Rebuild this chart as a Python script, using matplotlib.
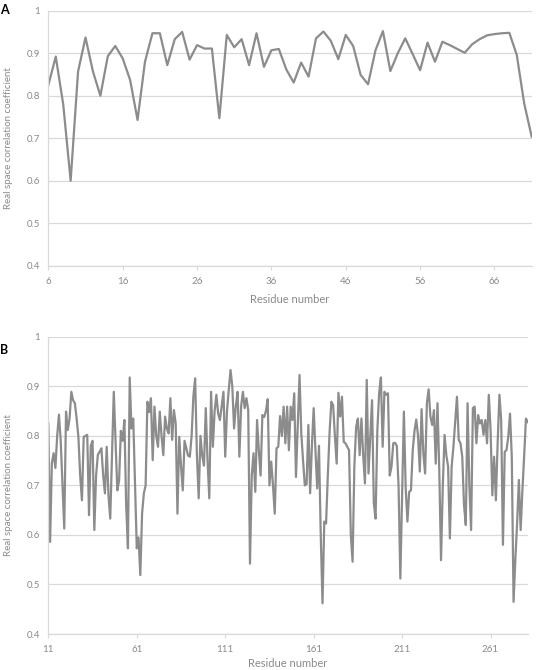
import numpy as np
import matplotlib
matplotlib.use("Agg")
import matplotlib.pyplot as plt
from matplotlib.ticker import FuncFormatter

plt.rcParams['font.family'] = ['Lato', 'DejaVu Sans']

# =========================
# Data
# =========================

# Panel A: residues 6-71
residues_a = np.arange(6, 72)
rscc_a = [
    0.825, 0.892, 0.78, 0.60, 0.857, 0.937, 0.857, 0.80, 0.893, 0.917,   # 6-15
    0.888, 0.837, 0.743, 0.88, 0.947, 0.947, 0.872, 0.933, 0.95, 0.885,  # 16-25
    0.919, 0.911, 0.911, 0.747, 0.943, 0.914, 0.933, 0.872, 0.947, 0.868,  # 26-35
    0.907, 0.91, 0.862, 0.831, 0.878, 0.845, 0.935, 0.951, 0.929, 0.886,  # 36-45
    0.943, 0.917, 0.849, 0.827, 0.907, 0.952, 0.858, 0.90, 0.935, 0.898,  # 46-55
    0.86, 0.925, 0.88, 0.927, 0.919, 0.91, 0.901, 0.921, 0.933, 0.942,    # 56-65
    0.945, 0.947, 0.948, 0.896, 0.782, 0.704,                             # 66-71
]
ticks_a = [6, 16, 26, 36, 46, 56, 66]

# Panel B: residues 11-282
residues_b = np.arange(11, 283)
rscc_b = [
    0.825, 0.586, 0.745, 0.765, 0.735, 0.80, 0.843, 0.79, 0.70, 0.613,    # 11-20
    0.849, 0.812, 0.835, 0.889, 0.872, 0.866, 0.835, 0.798, 0.72, 0.67,   # 21-30
    0.798, 0.80, 0.802, 0.64, 0.78, 0.79, 0.61, 0.72, 0.762, 0.768,       # 31-40
    0.775, 0.72, 0.684, 0.778, 0.68, 0.633, 0.76, 0.889, 0.79, 0.69,      # 41-50
    0.71, 0.81, 0.79, 0.832, 0.66, 0.573, 0.918, 0.815, 0.835, 0.70,      # 51-60
    0.573, 0.595, 0.519, 0.643, 0.684, 0.70, 0.869, 0.848, 0.876, 0.751,  # 61-70
    0.859, 0.80, 0.778, 0.849, 0.80, 0.761, 0.839, 0.815, 0.805, 0.876,   # 71-80
    0.792, 0.852, 0.825, 0.643, 0.798, 0.74, 0.69, 0.79, 0.775, 0.76,     # 81-90
    0.758, 0.80, 0.88, 0.916, 0.76, 0.674, 0.80, 0.76, 0.74, 0.856,       # 91-100
    0.75, 0.674, 0.889, 0.778, 0.85, 0.883, 0.845, 0.832, 0.86, 0.889,    # 101-110
    0.758, 0.85, 0.893, 0.933, 0.90, 0.815, 0.86, 0.889, 0.758, 0.86,     # 111-120
    0.889, 0.856, 0.876, 0.852, 0.542, 0.72, 0.765, 0.687, 0.832, 0.77,   # 121-130
    0.72, 0.842, 0.838, 0.85, 0.874, 0.70, 0.748, 0.70, 0.643, 0.775,     # 131-140
    0.778, 0.84, 0.80, 0.859, 0.785, 0.859, 0.771, 0.859, 0.832, 0.886,   # 141-150
    0.717, 0.82, 0.923, 0.805, 0.75, 0.70, 0.703, 0.822, 0.684, 0.78,     # 151-160
    0.856, 0.771, 0.694, 0.78, 0.60, 0.462, 0.627, 0.623, 0.72, 0.808,    # 161-170
    0.869, 0.862, 0.80, 0.744, 0.887, 0.839, 0.879, 0.788, 0.785, 0.778,  # 171-180
    0.771, 0.60, 0.546, 0.738, 0.818, 0.835, 0.761, 0.835, 0.76, 0.704,   # 181-190
    0.913, 0.724, 0.80, 0.872, 0.664, 0.633, 0.812, 0.886, 0.918, 0.778,  # 191-200
    0.889, 0.883, 0.886, 0.72, 0.738, 0.785, 0.786, 0.78, 0.697, 0.512,   # 201-210
    0.68, 0.849, 0.697, 0.627, 0.687, 0.69, 0.771, 0.81, 0.833, 0.80,     # 211-220
    0.728, 0.854, 0.765, 0.724, 0.866, 0.894, 0.839, 0.822, 0.852, 0.744, # 221-230
    0.866, 0.731, 0.549, 0.70, 0.802, 0.761, 0.738, 0.593, 0.738, 0.778,  # 231-240
    0.83, 0.879, 0.792, 0.785, 0.758, 0.66, 0.62, 0.866, 0.70, 0.61,      # 241-250
    0.856, 0.859, 0.785, 0.842, 0.825, 0.832, 0.802, 0.832, 0.785, 0.883, # 251-260
    0.812, 0.68, 0.758, 0.67, 0.785, 0.883, 0.832, 0.58, 0.768, 0.771,    # 261-270
    0.798, 0.845, 0.758, 0.465, 0.55, 0.623, 0.711, 0.61, 0.69, 0.76,     # 271-280
    0.835, 0.828,                                                         # 281-282
]
ticks_b = [11, 61, 111, 161, 211, 261]

yticks = [0.4, 0.5, 0.6, 0.7, 0.8, 0.9, 1.0]

# =========================
# Figure
# =========================

LINE = '#8c8c8c'
GRID = '#d9d9d9'
TXT = '#8a8a8a'

fig = plt.figure(figsize=(5.37, 6.70), dpi=100)
ax_a = fig.add_axes([0.090, 0.6034, 0.900, 0.3806])
ax_b = fig.add_axes([0.090, 0.0537, 0.8927, 0.4436])


def style(ax, xs, ys, ticks, xlim, xpad):
    ax.plot(xs, ys, color=LINE, linewidth=1.6, solid_joinstyle='round')
    ax.set_xlim(*xlim)
    ax.set_ylim(0.4, 1.0)
    ax.set_xticks(ticks)
    ax.set_yticks(yticks)
    ax.yaxis.set_major_formatter(FuncFormatter(lambda v, p: '1' if v > 0.99 else f'{v:.1f}'))
    ax.grid(axis='y', color=GRID, linewidth=0.9)
    ax.set_axisbelow(True)
    for s in ['top', 'right']:
        ax.spines[s].set_visible(False)
    ax.spines['left'].set_color(GRID)
    ax.spines['bottom'].set_color(GRID)
    ax.spines['left'].set_linewidth(0.9)
    ax.spines['bottom'].set_linewidth(0.9)
    ax.tick_params(axis='y', length=0, labelsize=7, labelcolor=TXT, pad=6)
    ax.tick_params(axis='x', length=3, color=GRID, labelsize=7, labelcolor=TXT, pad=5)
    ax.set_ylabel('Real space correlation coefficient', fontsize=7, color=TXT, labelpad=10)
    ax.set_xlabel('Residue number', fontsize=8, color=TXT, labelpad=xpad)


style(ax_a, residues_a, rscc_a, ticks_a, (6, 71), 6)
style(ax_b, residues_b, rscc_b, ticks_b, (11, 282), 3)

fig.text(0.0, 0.985, 'A', fontsize=9, fontweight='bold', ha='left', va='center')
fig.text(0.0, 0.478, 'B', fontsize=9, fontweight='bold', ha='left', va='center')

fig.savefig('out.png', dpi=100)
